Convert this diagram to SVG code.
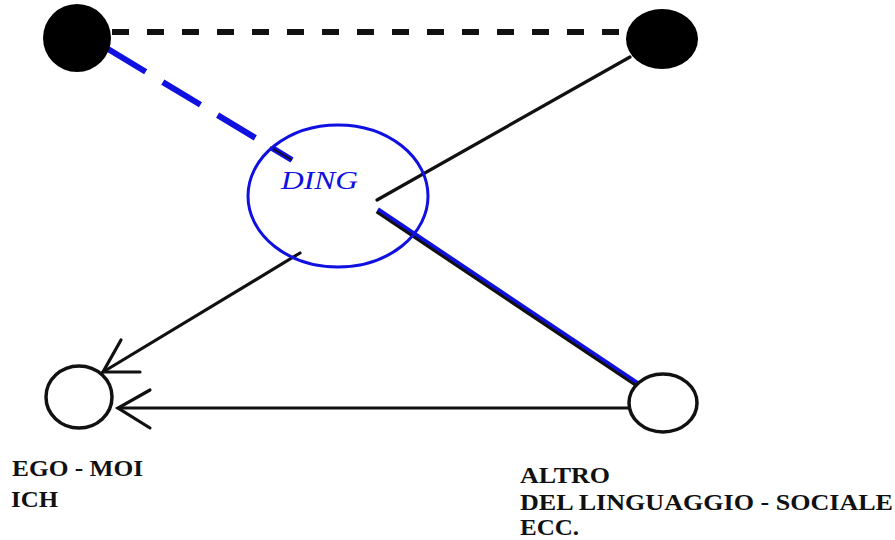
<svg xmlns="http://www.w3.org/2000/svg" width="895" height="540" viewBox="0 0 895 540">
<style>
.lbl{font-family:"Liberation Serif","Times New Roman",serif;font-weight:bold;font-size:24px;fill:#111}
.blk{stroke:#111;stroke-width:3.2;fill:none;stroke-linecap:round}
.open{fill:#fff;stroke:#111;stroke-width:3.5}
</style>
<rect width="895" height="540" fill="#fff"/>
<g id="connectors">
  <line x1="112" y1="32" x2="627" y2="32" stroke="#111" stroke-width="6" stroke-dasharray="17 18"/>
  <line x1="108" y1="49" x2="292" y2="160" stroke="#1010e0" stroke-width="6" stroke-dasharray="44 20"/>
  <line x1="270" y1="147" x2="292" y2="160" stroke="#111" stroke-width="1.5"/>
  <line x1="630" y1="57" x2="377" y2="200" class="blk"/>
  <line x1="300" y1="253" x2="103" y2="372" class="blk"/>
  <path d="M140,372 L103,372 L121,340" class="blk"/>
  <line x1="628" y1="408" x2="118" y2="408" class="blk"/>
  <path d="M150,390 L118,408 L150,428" class="blk"/>
  <line x1="377" y1="211" x2="640" y2="387" stroke="#111" stroke-width="5"/>
  <line x1="378" y1="209" x2="641" y2="385" stroke="#1010e0" stroke-width="3.5"/>
</g>
<g id="ding">
  <ellipse cx="338" cy="196" rx="90" ry="71" fill="none" stroke="#1010e0" stroke-width="3"/>
  <text x="281" y="189" font-family="Liberation Serif,'Times New Roman',serif" font-style="italic" font-size="26" fill="#1010e0" textLength="77" lengthAdjust="spacingAndGlyphs">DING</text>
</g>
<g id="soggetto-sup">
  <circle cx="77" cy="38" r="34" fill="#000"/>
</g>
<g id="altro-sup">
  <ellipse cx="662" cy="39" rx="36" ry="30" fill="#000"/>
</g>
<g id="ego">
  <ellipse cx="79" cy="397" rx="33" ry="31" class="open"/>
  <text class="lbl" x="12" y="476" textLength="131" lengthAdjust="spacingAndGlyphs">EGO - MOI</text>
  <text class="lbl" x="11" y="507" textLength="47" lengthAdjust="spacingAndGlyphs">ICH</text>
</g>
<g id="altro">
  <ellipse cx="663" cy="403" rx="34" ry="29" class="open"/>
  <text class="lbl" x="520" y="483" textLength="90" lengthAdjust="spacingAndGlyphs">ALTRO</text>
  <text class="lbl" x="520" y="510" textLength="373" lengthAdjust="spacingAndGlyphs">DEL LINGUAGGIO - SOCIALE</text>
  <text class="lbl" x="520" y="535" textLength="59" lengthAdjust="spacingAndGlyphs">ECC.</text>
</g>
</svg>
